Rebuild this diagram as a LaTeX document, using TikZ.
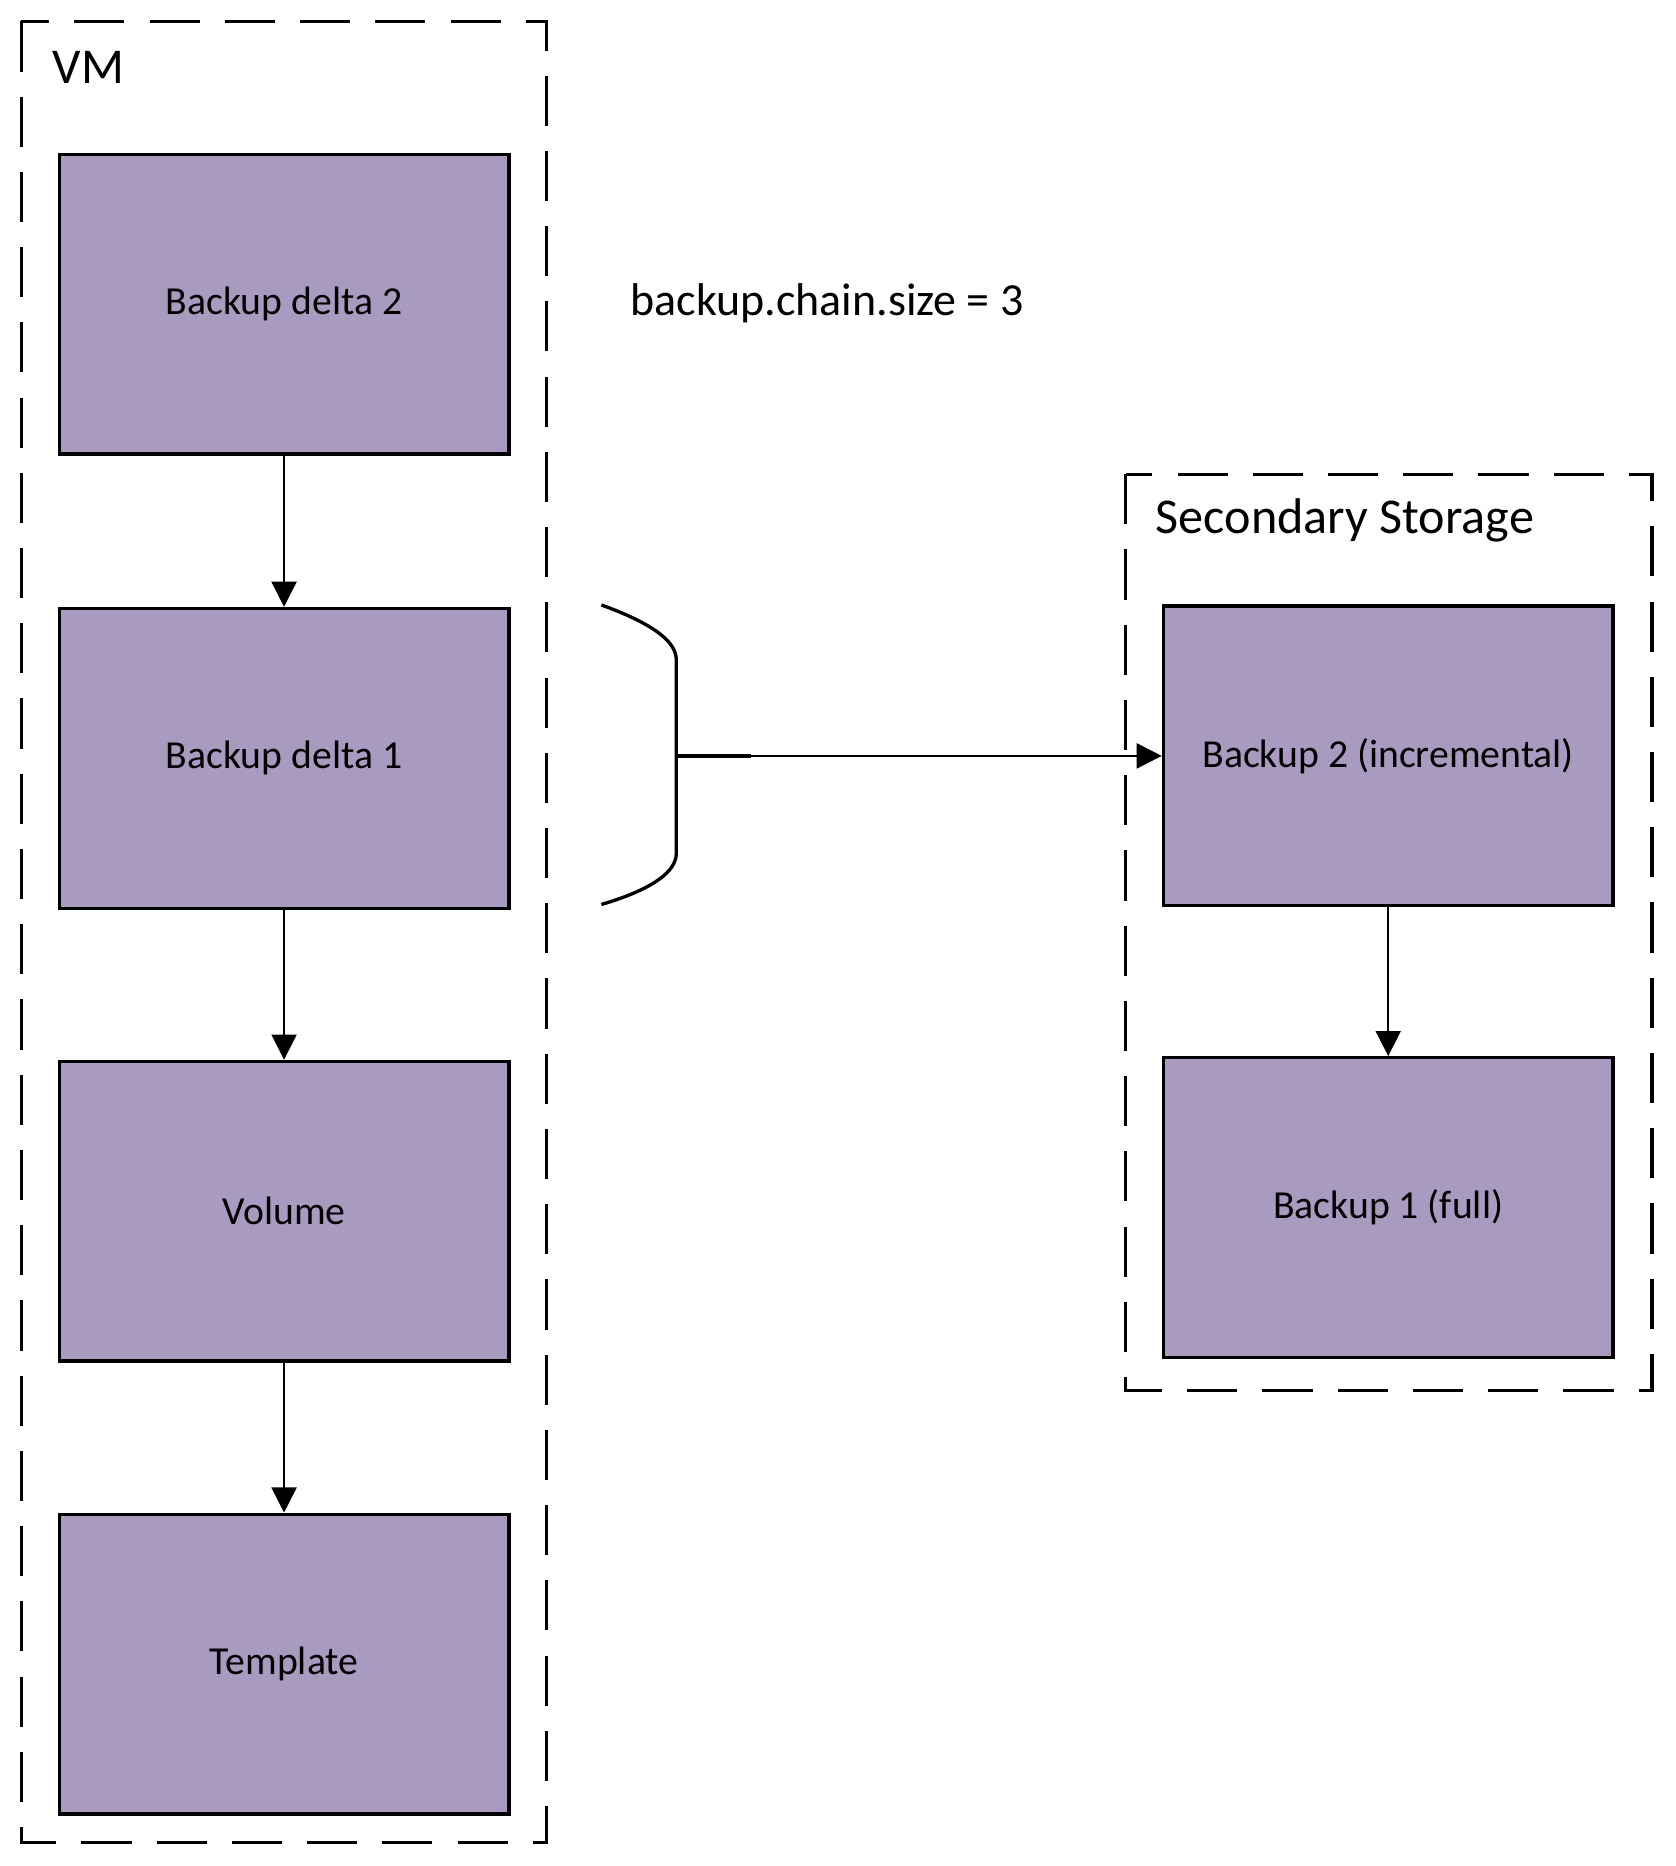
\documentclass[tikz,border=0pt]{standalone}
\usepackage{fontspec}
\setmainfont{Carlito}
\usetikzlibrary{arrows.meta, positioning}
\definecolor{boxfill}{HTML}{A99BC0}

\begin{document}
\begin{tikzpicture}[x=0.01cm, y=-0.01cm,
box/.style={draw, thick, fill=boxfill, rectangle,
minimum width=3.78cm, minimum height=2.52cm,
align=center, font=\fontsize{9.5}{11}\selectfont},
group/.style={draw, thick, dash pattern=on 12pt off 6pt},
arrow/.style={-{Triangle[length=6pt,width=6pt]}, thin}
]
\useasboundingbox (0,0) rectangle (1410,1570);

% VM group
\draw[group] (18,18) rectangle (460,1550);
\node[anchor=west, font=\fontsize{12}{14}\selectfont] (vmlabel) at (32,57) {VM};
\node[box] (delta2) at (239,256) {Backup delta 2};
\node[box, below=1.27cm of delta2] (delta1) {Backup delta 1};
\node[box, below=1.26cm of delta1] (volume) {Volume};
\node[box, below=1.26cm of volume] (template) {Template};

\draw[arrow] (delta2) -- (delta1);
\draw[arrow] (delta1) -- (volume);
\draw[arrow] (volume) -- (template);

\node[anchor=west, font=\fontsize{11}{13}\selectfont] (chainsize) at (518,255) {backup.chain.size = 3};

% secondary storage group
\draw[group] (947,399) rectangle (1390,1170);
\node[anchor=west, font=\fontsize{12}{14}\selectfont] (sslabel) at (960,438) {Secondary Storage};
\node[box] (backup2) at (1168,636) {Backup 2 (incremental)};
\node[box, below=1.25cm of backup2] (backup1) {Backup 1 (full)};
\draw[arrow] (backup2) -- (backup1);

% brace
\coordinate (brace) at (569,636);
\draw[thick] (506,509) .. controls (550,525) and (569,540) .. (569,555)
  -- (569,718) .. controls (569,733) and (550,748) .. (506,761);
\draw[thick] (brace) -- (632,636);
\draw[arrow] (brace) -- (backup2.west);
\end{tikzpicture}
\end{document}
